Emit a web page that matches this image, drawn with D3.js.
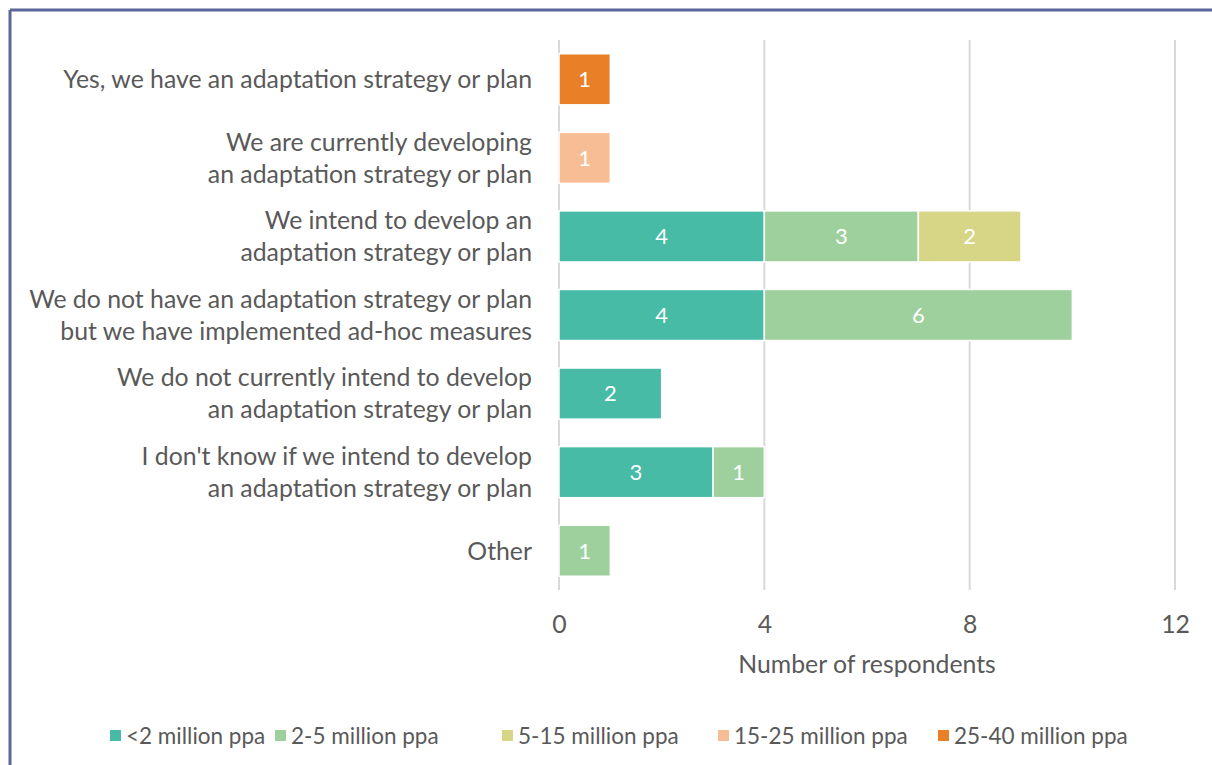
<!DOCTYPE html>
<html>
<head>
<meta charset="utf-8">
<script src="https://cdn.jsdelivr.net/npm/d3@7"></script>
<style>
  html, body { margin: 0; padding: 0; background: #fff; }
  svg { display: block; }
  text { font-family: Lato, "Open Sans", sans-serif; }
</style>
</head>
<body>
<svg id="chart" width="1212" height="765"></svg>
<script>
// Survey responses by port size (stacked counts per answer)
const categories = [
  ["Yes, we have an adaptation strategy or plan"],
  ["We are currently developing", "an adaptation strategy or plan"],
  ["We intend to develop an", "adaptation strategy or plan"],
  ["We do not have an adaptation strategy or plan", "but we have implemented ad-hoc measures"],
  ["We do not currently intend to develop", "an adaptation strategy or plan"],
  ["I don't know if we intend to develop", "an adaptation strategy or plan"],
  ["Other"]
];
const seriesNames = ["<2 million ppa", "2-5 million ppa", "5-15 million ppa", "15-25 million ppa", "25-40 million ppa"];
const under2   = [0, 0, 4, 4, 2, 3, 0];
const from2to5 = [0, 0, 3, 6, 0, 1, 1];
const from5to15 = [0, 0, 2, 0, 0, 0, 0];
const from15to25 = [0, 1, 0, 0, 0, 0, 0];
const from25to40 = [1, 0, 0, 0, 0, 0, 0];
const xTicks = [0, 4, 8, 12];
const axisTitle = "Number of respondents";

const seriesValues = [under2, from2to5, from5to15, from15to25, from25to40];
const colors = ["#47bba5", "#9dd09d", "#d7d686", "#f7be96", "#e97f27"];
const textColor = "#595959";
const labelSize = 24.8;

const svg = d3.select("#chart");

// Frame lines along the top and left edges
svg.append("line").attr("x1", 10).attr("y1", 10).attr("x2", 1212).attr("y2", 10)
  .attr("stroke", "#5d6699").attr("stroke-width", 3);
svg.append("line").attr("x1", 10).attr("y1", 10).attr("x2", 10).attr("y2", 765)
  .attr("stroke", "#5d6699").attr("stroke-width", 3);

const plot = { left: 559, right: 1175, top: 40, bottom: 590 };

const x = d3.scaleLinear().domain([0, 12]).range([plot.left, plot.right]);
const y = d3.scaleBand().domain(d3.range(categories.length))
  .range([plot.top, plot.bottom]).paddingInner(0.35).paddingOuter(0.175);

// Vertical gridlines
svg.append("g").selectAll("line").data(xTicks).join("line")
  .attr("x1", d => x(d)).attr("x2", d => x(d))
  .attr("y1", plot.top).attr("y2", plot.bottom)
  .attr("stroke", "#d9d9d9").attr("stroke-width", 2);

// Stack the series
const rows = categories.map((c, i) => {
  const r = { idx: i };
  seriesNames.forEach((s, k) => r[s] = seriesValues[k][i]);
  return r;
});
const stacked = d3.stack().keys(seriesNames)(rows);

const layers = svg.append("g").selectAll("g").data(stacked).join("g")
  .attr("fill", (d, i) => colors[i]);

layers.selectAll("rect").data(d => d.filter(p => p[1] - p[0] > 0)).join("rect")
  .attr("x", d => x(d[0]))
  .attr("y", d => y(d.data.idx))
  .attr("width", d => x(d[1]) - x(d[0]))
  .attr("height", y.bandwidth())
  .attr("stroke", "#fff").attr("stroke-width", 1.5);

layers.selectAll("text").data(d => d.filter(p => p[1] - p[0] > 0)).join("text")
  .attr("x", d => (x(d[0]) + x(d[1])) / 2)
  .attr("y", d => y(d.data.idx) + y.bandwidth() / 2)
  .attr("dy", "0.36em")
  .attr("text-anchor", "middle")
  .attr("fill", "#fff")
  .attr("font-size", 22)
  .text(d => d[1] - d[0]);

// Category labels
const lineH = 32;
const catG = svg.append("g");
categories.forEach((lines, i) => {
  const cy = y(i) + y.bandwidth() / 2;
  const t = catG.append("text")
    .attr("text-anchor", "end")
    .attr("fill", textColor)
    .attr("font-size", labelSize);
  lines.forEach((ln, j) => {
    t.append("tspan")
      .attr("x", 532)
      .attr("y", cy + (j - (lines.length - 1) / 2) * lineH)
      .attr("dy", "0.36em")
      .text(ln);
  });
});

// X axis tick labels
const xAxis = d3.axisBottom(x).tickValues(xTicks).tickSize(0).tickPadding(0);
const axG = svg.append("g").attr("transform", `translate(0, 624)`).call(xAxis);
axG.select(".domain").remove();
axG.selectAll("text")
  .attr("font-size", labelSize)
  .attr("fill", textColor)
  .attr("dy", "0.36em")
  .attr("y", 0)
  .style("font-family", "Lato, 'Open Sans', sans-serif");

svg.append("text")
  .attr("x", (plot.left + plot.right) / 2)
  .attr("y", 664).attr("dy", "0.36em")
  .attr("text-anchor", "middle")
  .attr("fill", textColor)
  .attr("font-size", labelSize)
  .text(axisTitle);

// Legend
const legendX = [110, 275, 502, 718, 938];
const lg = svg.append("g");
seriesNames.forEach((s, i) => {
  lg.append("rect").attr("x", legendX[i]).attr("y", 730).attr("width", 11).attr("height", 11)
    .attr("fill", colors[i]);
  lg.append("text").attr("x", legendX[i] + 16).attr("y", 735.5).attr("dy", "0.36em")
    .attr("fill", textColor).attr("font-size", 22.5).text(s);
});
</script>
</body>
</html>
